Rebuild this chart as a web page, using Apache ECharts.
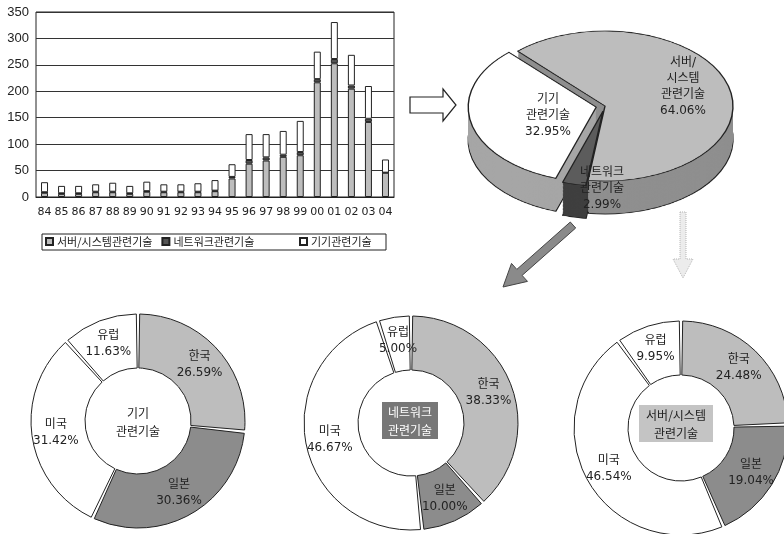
<!DOCTYPE html>
<html><head><meta charset="utf-8">
<script src="https://cdn.jsdelivr.net/npm/echarts@6/dist/echarts.min.js"></script>
<style>
html,body{margin:0;padding:0;background:#fff;}
#wrap{position:relative;width:784px;height:534px;overflow:hidden;background:#fff;}
#pie3d{position:absolute;left:0;top:0;width:784px;height:912px;transform:scaleY(0.586);transform-origin:0 0;}
#main{position:absolute;left:0;top:0;width:784px;height:534px;}
</style></head>
<body>
<div id="wrap"><div id="pie3d"></div><div id="main"></div></div>
<script>
// Yearly patent counts by technology field (1984-2004)
const years = ['84','85','86','87','88','89','90','91','92','93','94','95','96','97','98','99','00','01','02','03','04'];
const serverTech  = [8, 6, 6, 9, 9, 6, 10, 9, 9, 9, 11, 35, 63, 69, 76, 79, 217, 253, 205, 142, 46];
const networkTech = [1, 1, 1, 1, 1, 1, 1, 1, 1, 1, 1, 3, 7, 6, 4, 6, 6, 8, 6, 6, 0];
const deviceTech  = [19, 14, 14, 14, 17, 14, 18, 14, 14, 16, 20, 24, 49, 44, 45, 59, 52, 70, 58, 62, 25];
const yTicks = [0, 50, 100, 150, 200, 250, 300, 350];

// Share of each field (%)
const fieldNames = ['서버/시스템 관련기술', '네트워크 관련기술', '기기 관련기술'];
const fieldShare = [64.06, 2.99, 32.95];

// Share of each region within a field (%)
const regions = ['한국', '일본', '미국', '유럽'];
const deviceShare  = [26.59, 30.36, 31.42, 11.63];
const networkShare = [38.33, 10.00, 46.67, 5.00];
const serverShare  = [24.48, 19.04, 46.54, 9.95];

const FONT = '"DejaVu Sans", "Noto Sans CJK KR", sans-serif';
const KFONT = '"Noto Sans CJK KR", sans-serif';
const INK = '#222';
const LIGHT = '#bdbdbd', DARK = '#8c8c8c';

/* ---------- 3D pie (top face + stacked side layers, squashed by CSS) ---------- */
const SQUASH = 0.586;
const pieCx = 605, pieCy = 106 / SQUASH, pieR = 128, pieDepth = 33 / SQUASH;
const topColors  = [LIGHT, '#5c5c5c', '#ffffff'];
const sideColors = ['#8f8f8f', '#3f3f3f', '#a6a6a6'];
const nLayers = 24;

function pieLayer(offsetY, colors, withBorder) {
  return {
    type: 'pie', silent: true, animation: false,
    center: [pieCx, pieCy + offsetY], radius: pieR,
    startAngle: 133, selectedMode: 'multiple', selectedOffset: 9,
    label: { show: false }, labelLine: { show: false },
    itemStyle: { borderColor: withBorder ? INK : 'transparent', borderWidth: withBorder ? 1.4 : 0 },
    emphasis: { disabled: true },
    data: fieldShare.map((v, i) => ({
      value: v, name: fieldNames[i], selected: i !== 0,
      itemStyle: { color: colors[i] }
    }))
  };
}
const pieSeries = [];
for (let k = nLayers; k >= 1; k--) {
  pieSeries.push(pieLayer(pieDepth * k / nLayers, sideColors, k === nLayers));
}
pieSeries.push(pieLayer(0, topColors, true));
const pie3d = echarts.init(document.getElementById('pie3d'), null, { renderer: 'canvas' });
pie3d.setOption({ animation: false, series: pieSeries });

/* ---------- main chart: bars, donuts, arrows, labels ---------- */
function donut(center, values) {
  return {
    type: 'pie', silent: true, animation: false,
    center: center, radius: [53, 107], startAngle: 90, padAngle: 1.8,
    itemStyle: { borderColor: INK, borderWidth: 1 },
    emphasis: { disabled: true },
    label: {
      show: true, position: 'inside', color: INK, fontSize: 12, lineHeight: 16,
      fontFamily: FONT,
      formatter: p => p.name + '\n' + p.value.toFixed(2) + '%'
    },
    labelLine: { show: false },
    data: values.map((v, i) => ({
      value: v, name: regions[i],
      itemStyle: { color: [LIGHT, DARK, '#fff', '#fff'][i] }
    }))
  };
}

const barStyle = c => ({ color: c, borderColor: INK, borderWidth: 1 });

function centerBox(x, y, lines, fill, color, w) {
  const els = [];
  if (fill) els.push({ type: 'rect', shape: { x: x - w / 2, y: y - 19, width: w, height: 37 }, style: { fill: fill } });
  els.push({ type: 'text', x: x, y: y, style: { text: lines, fill: color, font: '12px ' + KFONT, textAlign: 'center', textVerticalAlign: 'middle', lineHeight: 18 } });
  return els;
}

const pieLabel = (x, y, text) => ({
  type: 'text', x: x, y: y,
  style: { text: text, fill: INK, font: '12px ' + FONT, textAlign: 'center', textVerticalAlign: 'top', lineHeight: 16 }
});

// arrow shapes
const hollowArrow = [[410,97],[443,97],[443,89],[456,105],[443,121],[443,113],[410,113]];
const diagArrow = [[575.7,228],[522.1,275.4],[527.5,281.4],[503,287],[511.5,263.4],[516.8,269.4],[570.3,222]];
const faintArrow = [[680,212],[686,212],[686,259],[693,259],[683,278],[673,259],[680,259]];

const main = echarts.init(document.getElementById('main'), null, { renderer: 'canvas' });
main.setOption({
  animation: false,
  backgroundColor: 'transparent',
  grid: { left: 36, right: 390, top: 12, bottom: 337, show: true, borderColor: INK, borderWidth: 1 },
  legend: [
    { data: ['서버/시스템관련기술', '네트워크관련기술'], left: 45, top: 236, icon: 'rect', itemWidth: 7, itemHeight: 7, itemGap: 9, padding: 0, selectedMode: false,
      textStyle: { fontSize: 11, color: INK, fontFamily: KFONT, padding: [0, 0, 0, -1] } },
    { data: ['기기관련기술'], left: 299, top: 236, icon: 'rect', itemWidth: 7, itemHeight: 7, padding: 0, selectedMode: false,
      textStyle: { fontSize: 11, color: INK, fontFamily: KFONT, padding: [0, 0, 0, -1] } }
  ],
  xAxis: {
    type: 'category', data: years,
    axisLine: { lineStyle: { color: INK } }, axisTick: { show: false },
    axisLabel: { color: INK, fontSize: 11, margin: 10, interval: 0, fontFamily: FONT }
  },
  yAxis: {
    type: 'value', min: yTicks[0], max: yTicks[yTicks.length - 1], interval: 50,
    axisLine: { show: false }, axisTick: { show: false },
    axisLabel: { color: INK, fontSize: 13, margin: 7, fontFamily: '"Liberation Sans", Arial, sans-serif' },
    splitLine: { lineStyle: { color: '#333', width: 1 } }
  },
  series: [
    { name: '서버/시스템관련기술', type: 'bar', stack: 'all', barWidth: 7, data: serverTech, itemStyle: barStyle(LIGHT), silent: true },
    { name: '네트워크관련기술', type: 'bar', stack: 'all', barWidth: 7, data: networkTech, itemStyle: barStyle('#555'), silent: true },
    { name: '기기관련기술', type: 'bar', stack: 'all', barWidth: 7, data: deviceTech, itemStyle: barStyle('#fff'), silent: true },
    donut([138, 421], deviceShare),
    donut([411, 423], networkShare),
    donut([681, 428], serverShare)
  ],
  graphic: [
    { type: 'rect', shape: { x: 42, y: 234, width: 344, height: 16 }, style: { fill: 'none', stroke: INK, lineWidth: 1 } },
    { type: 'polygon', shape: { points: hollowArrow }, style: { fill: '#fff', stroke: INK, lineWidth: 1.2 } },
    { type: 'polygon', shape: { points: diagArrow }, style: { fill: '#8a8a8a', stroke: '#444', lineWidth: 1 } },
    { type: 'polygon', shape: { points: faintArrow }, style: { fill: '#ececec', stroke: '#b5b5b5', lineWidth: 1, lineDash: [1, 1] } },
    pieLabel(683, 55, '서버/\n시스템\n관련기술\n' + fieldShare[0].toFixed(2) + '%'),
    pieLabel(548, 92, '기기\n관련기술\n' + fieldShare[2].toFixed(2) + '%'),
    pieLabel(602, 165, '네트워크\n관련기술\n' + fieldShare[1].toFixed(2) + '%'),
    ...centerBox(138, 422, '기기\n관련기술', null, INK, 0),
    ...centerBox(410, 421, '네트워크\n관련기술', '#777', '#fff', 56),
    ...centerBox(676, 424, '서버/시스템\n관련기술', '#c4c4c4', INK, 74)
  ]
});
</script>
</body></html>
